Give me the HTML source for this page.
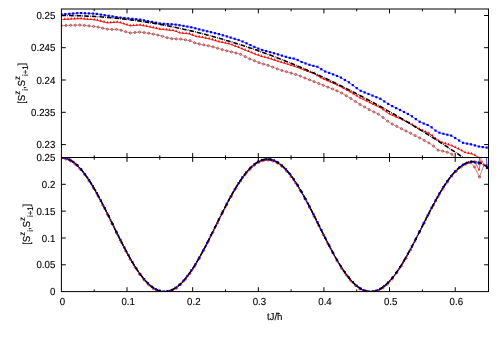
<!DOCTYPE html>
<html><head><meta charset="utf-8"><style>
html,body{margin:0;padding:0;background:#fff;}
svg{display:block;position:absolute;left:0;top:0;will-change:transform}
</style></head><body>
<svg width="500" height="350" viewBox="0 0 500 350">
<defs>
<clipPath id="ct"><rect x="61.4" y="9.0" width="427.1" height="148.5"/></clipPath>
<clipPath id="cb"><rect x="61.4" y="157.5" width="427.1" height="134.10000000000002"/></clipPath>
</defs>
<rect width="500" height="350" fill="#fff"/>
<path d="M61.4 25.6 L66.0 25.5 L70.6 25.3 L75.2 25.2 L79.8 25.0 L84.4 25.4 L89.0 25.9 L93.6 26.4 L98.2 27.1 L102.7 28.2 L107.3 29.2 L111.9 29.4 L116.5 29.4 L121.1 30.3 L125.7 31.7 L130.3 33.0 L134.9 32.5 L139.5 32.1 L144.1 32.6 L148.7 33.2 L153.3 34.1 L157.9 35.1 L162.5 36.3 L167.1 37.7 L171.7 38.7 L176.3 38.9 L180.8 39.1 L185.4 39.9 L190.0 40.6 L194.6 42.8 L199.2 44.0 L203.8 44.9 L208.4 45.7 L213.0 46.9 L217.6 48.3 L222.2 49.6 L226.8 50.8 L231.4 51.9 L236.0 53.0 L240.6 54.3 L245.2 56.6 L249.8 58.9 L254.4 60.7 L258.9 62.6 L263.5 64.1 L268.1 65.4 L272.7 67.1 L277.3 68.9 L281.9 70.5 L286.5 71.7 L291.1 73.0 L295.7 74.5 L300.3 76.1 L304.9 78.0 L309.5 79.8 L314.1 81.6 L318.7 83.5 L323.3 85.3 L327.9 87.1 L332.5 89.0 L337.0 90.8 L341.6 93.0 L346.2 95.7 L350.8 98.5 L355.4 101.5 L360.0 104.5 L364.6 107.0 L369.2 109.6 L373.8 111.9 L378.4 114.2 L383.0 117.5 L387.6 121.2 L392.2 124.1 L396.8 126.4 L401.4 128.7 L406.0 131.0 L410.6 133.3 L415.1 135.6 L419.7 137.9 L424.3 140.4 L428.9 142.9 L433.5 146.1 L438.1 150.2 L442.7 151.1 L447.3 152.3 L451.9 154.2 L455.5 158.5" fill="none" stroke="#a52a2a" stroke-width="0.5" clip-path="url(#ct)"/>
<g clip-path="url(#ct)" fill="#a52a2a" stroke="#a52a2a"><circle cx="61.4" cy="25.6" r="1.05" fill="none" stroke-width="0.75"/><circle cx="66.0" cy="25.5" r="1.05" fill="none" stroke-width="0.75"/><circle cx="70.6" cy="25.3" r="1.05" fill="none" stroke-width="0.75"/><circle cx="75.2" cy="25.2" r="1.05" fill="none" stroke-width="0.75"/><circle cx="79.8" cy="25.0" r="1.05" fill="none" stroke-width="0.75"/><circle cx="84.4" cy="25.4" r="1.05" fill="none" stroke-width="0.75"/><circle cx="89.0" cy="25.9" r="1.05" fill="none" stroke-width="0.75"/><circle cx="93.6" cy="26.4" r="1.05" fill="none" stroke-width="0.75"/><circle cx="98.2" cy="27.1" r="1.05" fill="none" stroke-width="0.75"/><circle cx="102.7" cy="28.2" r="1.05" fill="none" stroke-width="0.75"/><circle cx="107.3" cy="29.2" r="1.05" fill="none" stroke-width="0.75"/><circle cx="111.9" cy="29.4" r="1.05" fill="none" stroke-width="0.75"/><circle cx="116.5" cy="29.4" r="1.05" fill="none" stroke-width="0.75"/><circle cx="121.1" cy="30.3" r="1.05" fill="none" stroke-width="0.75"/><circle cx="125.7" cy="31.7" r="1.05" fill="none" stroke-width="0.75"/><circle cx="130.3" cy="33.0" r="1.05" fill="none" stroke-width="0.75"/><circle cx="134.9" cy="32.5" r="1.05" fill="none" stroke-width="0.75"/><circle cx="139.5" cy="32.1" r="1.05" fill="none" stroke-width="0.75"/><circle cx="144.1" cy="32.6" r="1.05" fill="none" stroke-width="0.75"/><circle cx="148.7" cy="33.2" r="1.05" fill="none" stroke-width="0.75"/><circle cx="153.3" cy="34.1" r="1.05" fill="none" stroke-width="0.75"/><circle cx="157.9" cy="35.1" r="1.05" fill="none" stroke-width="0.75"/><circle cx="162.5" cy="36.3" r="1.05" fill="none" stroke-width="0.75"/><circle cx="167.1" cy="37.7" r="1.05" fill="none" stroke-width="0.75"/><circle cx="171.7" cy="38.7" r="1.05" fill="none" stroke-width="0.75"/><circle cx="176.3" cy="38.9" r="1.05" fill="none" stroke-width="0.75"/><circle cx="180.8" cy="39.1" r="1.05" fill="none" stroke-width="0.75"/><circle cx="185.4" cy="39.9" r="1.05" fill="none" stroke-width="0.75"/><circle cx="190.0" cy="40.6" r="1.05" fill="none" stroke-width="0.75"/><circle cx="194.6" cy="42.8" r="1.05" fill="none" stroke-width="0.75"/><circle cx="199.2" cy="44.0" r="1.05" fill="none" stroke-width="0.75"/><circle cx="203.8" cy="44.9" r="1.05" fill="none" stroke-width="0.75"/><circle cx="208.4" cy="45.7" r="1.05" fill="none" stroke-width="0.75"/><circle cx="213.0" cy="46.9" r="1.05" fill="none" stroke-width="0.75"/><circle cx="217.6" cy="48.3" r="1.05" fill="none" stroke-width="0.75"/><circle cx="222.2" cy="49.6" r="1.05" fill="none" stroke-width="0.75"/><circle cx="226.8" cy="50.8" r="1.05" fill="none" stroke-width="0.75"/><circle cx="231.4" cy="51.9" r="1.05" fill="none" stroke-width="0.75"/><circle cx="236.0" cy="53.0" r="1.05" fill="none" stroke-width="0.75"/><circle cx="240.6" cy="54.3" r="1.05" fill="none" stroke-width="0.75"/><circle cx="245.2" cy="56.6" r="1.05" fill="none" stroke-width="0.75"/><circle cx="249.8" cy="58.9" r="1.05" fill="none" stroke-width="0.75"/><circle cx="254.4" cy="60.7" r="1.05" fill="none" stroke-width="0.75"/><circle cx="258.9" cy="62.6" r="1.05" fill="none" stroke-width="0.75"/><circle cx="263.5" cy="64.1" r="1.05" fill="none" stroke-width="0.75"/><circle cx="268.1" cy="65.4" r="1.05" fill="none" stroke-width="0.75"/><circle cx="272.7" cy="67.1" r="1.05" fill="none" stroke-width="0.75"/><circle cx="277.3" cy="68.9" r="1.05" fill="none" stroke-width="0.75"/><circle cx="281.9" cy="70.5" r="1.05" fill="none" stroke-width="0.75"/><circle cx="286.5" cy="71.7" r="1.05" fill="none" stroke-width="0.75"/><circle cx="291.1" cy="73.0" r="1.05" fill="none" stroke-width="0.75"/><circle cx="295.7" cy="74.5" r="1.05" fill="none" stroke-width="0.75"/><circle cx="300.3" cy="76.1" r="1.05" fill="none" stroke-width="0.75"/><circle cx="304.9" cy="78.0" r="1.05" fill="none" stroke-width="0.75"/><circle cx="309.5" cy="79.8" r="1.05" fill="none" stroke-width="0.75"/><circle cx="314.1" cy="81.6" r="1.05" fill="none" stroke-width="0.75"/><circle cx="318.7" cy="83.5" r="1.05" fill="none" stroke-width="0.75"/><circle cx="323.3" cy="85.3" r="1.05" fill="none" stroke-width="0.75"/><circle cx="327.9" cy="87.1" r="1.05" fill="none" stroke-width="0.75"/><circle cx="332.5" cy="89.0" r="1.05" fill="none" stroke-width="0.75"/><circle cx="337.0" cy="90.8" r="1.05" fill="none" stroke-width="0.75"/><circle cx="341.6" cy="93.0" r="1.05" fill="none" stroke-width="0.75"/><circle cx="346.2" cy="95.7" r="1.05" fill="none" stroke-width="0.75"/><circle cx="350.8" cy="98.5" r="1.05" fill="none" stroke-width="0.75"/><circle cx="355.4" cy="101.5" r="1.05" fill="none" stroke-width="0.75"/><circle cx="360.0" cy="104.5" r="1.05" fill="none" stroke-width="0.75"/><circle cx="364.6" cy="107.0" r="1.05" fill="none" stroke-width="0.75"/><circle cx="369.2" cy="109.6" r="1.05" fill="none" stroke-width="0.75"/><circle cx="373.8" cy="111.9" r="1.05" fill="none" stroke-width="0.75"/><circle cx="378.4" cy="114.2" r="1.05" fill="none" stroke-width="0.75"/><circle cx="383.0" cy="117.5" r="1.05" fill="none" stroke-width="0.75"/><circle cx="387.6" cy="121.2" r="1.05" fill="none" stroke-width="0.75"/><circle cx="392.2" cy="124.1" r="1.05" fill="none" stroke-width="0.75"/><circle cx="396.8" cy="126.4" r="1.05" fill="none" stroke-width="0.75"/><circle cx="401.4" cy="128.7" r="1.05" fill="none" stroke-width="0.75"/><circle cx="406.0" cy="131.0" r="1.05" fill="none" stroke-width="0.75"/><circle cx="410.6" cy="133.3" r="1.05" fill="none" stroke-width="0.75"/><circle cx="415.1" cy="135.6" r="1.05" fill="none" stroke-width="0.75"/><circle cx="419.7" cy="137.9" r="1.05" fill="none" stroke-width="0.75"/><circle cx="424.3" cy="140.4" r="1.05" fill="none" stroke-width="0.75"/><circle cx="428.9" cy="142.9" r="1.05" fill="none" stroke-width="0.75"/><circle cx="433.5" cy="146.1" r="1.05" fill="none" stroke-width="0.75"/><circle cx="438.1" cy="150.2" r="1.05" fill="none" stroke-width="0.75"/><circle cx="442.7" cy="151.1" r="1.05" fill="none" stroke-width="0.75"/><circle cx="447.3" cy="152.3" r="1.05" fill="none" stroke-width="0.75"/><circle cx="451.9" cy="154.2" r="1.05" fill="none" stroke-width="0.75"/></g>
<path d="M61.4 19.6 L64.7 19.4 L68.0 19.2 L71.2 19.1 L74.5 18.9 L77.8 18.7 L81.1 18.7 L84.4 19.0 L87.7 19.3 L90.9 19.6 L94.2 19.8 L97.5 20.4 L100.8 21.2 L104.1 22.0 L107.3 22.8 L110.6 22.7 L113.9 22.4 L117.2 22.1 L120.5 22.8 L123.7 23.8 L127.0 24.9 L130.3 25.8 L133.6 25.5 L136.9 25.3 L140.2 25.0 L143.4 25.7 L146.7 26.3 L150.0 27.0 L153.3 27.7 L156.6 28.4 L159.8 29.2 L163.1 29.5 L166.4 29.8 L169.7 30.2 L173.0 30.5 L176.3 31.5 L179.5 32.8 L182.8 33.3 L186.1 33.6 L189.4 33.9 L192.7 35.2 L195.9 36.6 L199.2 36.9 L202.5 37.5 L205.8 38.2 L209.1 38.8 L212.3 39.7 L215.6 40.7 L218.9 41.7 L222.2 42.4 L225.5 43.1 L228.8 43.8 L232.0 44.8 L235.3 46.1 L238.6 47.4 L241.9 48.8 L245.2 50.1 L248.4 51.4 L251.7 52.7 L255.0 54.0 L258.3 55.3 L261.6 56.4 L264.9 57.3 L268.1 58.1 L271.4 59.1 L274.7 60.2 L278.0 61.3 L281.3 62.4 L284.5 63.4 L287.8 64.3 L291.1 65.4 L294.4 66.5 L297.7 67.6 L300.9 68.8 L304.2 70.1 L307.5 71.4 L310.8 72.6 L314.1 73.5 L317.4 75.6 L320.6 77.7 L323.9 79.2 L327.2 80.6 L330.5 82.1 L333.8 83.6 L337.0 85.1 L340.3 86.6 L343.6 88.4 L346.9 90.2 L350.2 92.0 L353.5 94.0 L356.7 95.9 L360.0 97.9 L363.3 99.5 L366.6 101.1 L369.9 102.7 L373.1 104.3 L376.4 105.9 L379.7 107.5 L383.0 109.6 L386.3 111.9 L389.5 114.1 L392.8 115.6 L396.1 117.0 L399.4 118.3 L402.7 119.9 L406.0 121.6 L409.2 123.2 L412.5 125.1 L415.8 127.1 L419.1 129.1 L422.4 130.6 L425.6 132.0 L428.9 133.3 L432.2 135.7 L435.5 138.6 L438.8 140.9 L442.1 142.5 L445.3 143.6 L448.6 144.7 L451.9 145.8 L455.2 147.4 L458.5 149.0 L461.7 150.7 L465.0 152.6 L468.3 153.3 L471.6 153.8 L474.9 155.4 L479.6 157.5" fill="none" stroke="#ff0000" stroke-width="0.8" clip-path="url(#ct)"/>
<g clip-path="url(#ct)" fill="#ff0000" stroke="#ff0000"><path d="M60.30 20.10L62.50 20.10L61.40 17.50z" stroke="none"/><path d="M63.58 19.92L65.78 19.92L64.68 17.32z" stroke="none"/><path d="M66.86 19.75L69.06 19.75L67.96 17.15z" stroke="none"/><path d="M70.14 19.57L72.34 19.57L71.24 16.97z" stroke="none"/><path d="M73.43 19.39L75.63 19.39L74.53 16.79z" stroke="none"/><path d="M76.71 19.22L78.91 19.22L77.81 16.62z" stroke="none"/><path d="M79.99 19.20L82.19 19.20L81.09 16.60z" stroke="none"/><path d="M83.27 19.48L85.47 19.48L84.37 16.88z" stroke="none"/><path d="M86.55 19.77L88.75 19.77L87.65 17.17z" stroke="none"/><path d="M89.83 20.06L92.03 20.06L90.93 17.46z" stroke="none"/><path d="M93.12 20.34L95.31 20.34L94.22 17.74z" stroke="none"/><path d="M96.40 20.87L98.60 20.87L97.50 18.27z" stroke="none"/><path d="M99.68 21.69L101.88 21.69L100.78 19.09z" stroke="none"/><path d="M102.96 22.51L105.16 22.51L104.06 19.91z" stroke="none"/><path d="M106.24 23.34L108.44 23.34L107.34 20.74z" stroke="none"/><path d="M109.52 23.24L111.72 23.24L110.62 20.64z" stroke="none"/><path d="M112.80 22.91L115.00 22.91L113.90 20.31z" stroke="none"/><path d="M116.09 22.58L118.29 22.58L117.19 19.98z" stroke="none"/><path d="M119.37 23.28L121.57 23.28L120.47 20.68z" stroke="none"/><path d="M122.65 24.32L124.85 24.32L123.75 21.72z" stroke="none"/><path d="M125.93 25.36L128.13 25.36L127.03 22.76z" stroke="none"/><path d="M129.21 26.28L131.41 26.28L130.31 23.68z" stroke="none"/><path d="M132.49 26.01L134.69 26.01L133.59 23.41z" stroke="none"/><path d="M135.77 25.75L137.97 25.75L136.87 23.15z" stroke="none"/><path d="M139.06 25.53L141.26 25.53L140.16 22.93z" stroke="none"/><path d="M142.34 26.19L144.54 26.19L143.44 23.59z" stroke="none"/><path d="M145.62 26.84L147.82 26.84L146.72 24.24z" stroke="none"/><path d="M148.90 27.50L151.10 27.50L150.00 24.90z" stroke="none"/><path d="M152.18 28.22L154.38 28.22L153.28 25.62z" stroke="none"/><path d="M155.46 28.94L157.66 28.94L156.56 26.34z" stroke="none"/><path d="M158.75 29.67L160.94 29.67L159.84 27.07z" stroke="none"/><path d="M162.03 30.01L164.23 30.01L163.13 27.41z" stroke="none"/><path d="M165.31 30.34L167.51 30.34L166.41 27.74z" stroke="none"/><path d="M168.59 30.67L170.79 30.67L169.69 28.07z" stroke="none"/><path d="M171.87 31.00L174.07 31.00L172.97 28.40z" stroke="none"/><path d="M175.15 32.00L177.35 32.00L176.25 29.40z" stroke="none"/><path d="M178.43 33.31L180.63 33.31L179.53 30.71z" stroke="none"/><path d="M181.72 33.78L183.92 33.78L182.82 31.18z" stroke="none"/><path d="M185.00 34.11L187.20 34.11L186.10 31.51z" stroke="none"/><path d="M188.28 34.44L190.48 34.44L189.38 31.84z" stroke="none"/><path d="M191.56 35.65L193.76 35.65L192.66 33.05z" stroke="none"/><path d="M194.84 37.07L197.04 37.07L195.94 34.47z" stroke="none"/><path d="M198.12 37.42L200.32 37.42L199.22 34.82z" stroke="none"/><path d="M201.40 38.00L203.60 38.00L202.50 35.40z" stroke="none"/><path d="M204.69 38.66L206.89 38.66L205.79 36.06z" stroke="none"/><path d="M207.97 39.31L210.17 39.31L209.07 36.71z" stroke="none"/><path d="M211.25 40.20L213.45 40.20L212.35 37.60z" stroke="none"/><path d="M214.53 41.19L216.73 41.19L215.63 38.59z" stroke="none"/><path d="M217.81 42.17L220.01 42.17L218.91 39.57z" stroke="none"/><path d="M221.09 42.94L223.29 42.94L222.19 40.34z" stroke="none"/><path d="M224.38 43.59L226.57 43.59L225.47 40.99z" stroke="none"/><path d="M227.66 44.25L229.86 44.25L228.76 41.65z" stroke="none"/><path d="M230.94 45.32L233.14 45.32L232.04 42.72z" stroke="none"/><path d="M234.22 46.63L236.42 46.63L235.32 44.03z" stroke="none"/><path d="M237.50 47.94L239.70 47.94L238.60 45.34z" stroke="none"/><path d="M240.78 49.25L242.98 49.25L241.88 46.65z" stroke="none"/><path d="M244.06 50.57L246.26 50.57L245.16 47.97z" stroke="none"/><path d="M247.35 51.88L249.55 51.88L248.45 49.28z" stroke="none"/><path d="M250.63 53.19L252.83 53.19L251.73 50.59z" stroke="none"/><path d="M253.91 54.50L256.11 54.50L255.01 51.90z" stroke="none"/><path d="M257.19 55.82L259.39 55.82L258.29 53.22z" stroke="none"/><path d="M260.47 56.91L262.67 56.91L261.57 54.31z" stroke="none"/><path d="M263.75 57.76L265.95 57.76L264.85 55.16z" stroke="none"/><path d="M267.03 58.61L269.23 58.61L268.13 56.01z" stroke="none"/><path d="M270.32 59.58L272.52 59.58L271.42 56.98z" stroke="none"/><path d="M273.60 60.70L275.80 60.70L274.70 58.10z" stroke="none"/><path d="M276.88 61.81L279.08 61.81L277.98 59.21z" stroke="none"/><path d="M280.16 62.88L282.36 62.88L281.26 60.28z" stroke="none"/><path d="M283.44 63.86L285.64 63.86L284.54 61.26z" stroke="none"/><path d="M286.72 64.85L288.92 64.85L287.82 62.25z" stroke="none"/><path d="M290.00 65.88L292.21 65.88L291.11 63.28z" stroke="none"/><path d="M293.29 66.99L295.49 66.99L294.39 64.39z" stroke="none"/><path d="M296.57 68.11L298.77 68.11L297.67 65.51z" stroke="none"/><path d="M299.85 69.28L302.05 69.28L300.95 66.68z" stroke="none"/><path d="M303.13 70.59L305.33 70.59L304.23 67.99z" stroke="none"/><path d="M306.41 71.91L308.61 71.91L307.51 69.31z" stroke="none"/><path d="M309.69 73.10L311.89 73.10L310.79 70.50z" stroke="none"/><path d="M312.98 73.95L315.18 73.95L314.08 71.35z" stroke="none"/><path d="M316.26 76.14L318.46 76.14L317.36 73.54z" stroke="none"/><path d="M319.54 78.19L321.74 78.19L320.64 75.59z" stroke="none"/><path d="M322.82 79.66L325.02 79.66L323.92 77.06z" stroke="none"/><path d="M326.10 81.14L328.30 81.14L327.20 78.54z" stroke="none"/><path d="M329.38 82.62L331.58 82.62L330.48 80.02z" stroke="none"/><path d="M332.66 84.09L334.86 84.09L333.76 81.49z" stroke="none"/><path d="M335.95 85.57L338.15 85.57L337.05 82.97z" stroke="none"/><path d="M339.23 87.08L341.43 87.08L340.33 84.48z" stroke="none"/><path d="M342.51 88.88L344.71 88.88L343.61 86.28z" stroke="none"/><path d="M345.79 90.69L347.99 90.69L346.89 88.09z" stroke="none"/><path d="M349.07 92.50L351.27 92.50L350.17 89.90z" stroke="none"/><path d="M352.35 94.47L354.55 94.47L353.45 91.87z" stroke="none"/><path d="M355.63 96.44L357.83 96.44L356.73 93.84z" stroke="none"/><path d="M358.92 98.41L361.12 98.41L360.02 95.81z" stroke="none"/><path d="M362.20 100.00L364.40 100.00L363.30 97.40z" stroke="none"/><path d="M365.48 101.59L367.68 101.59L366.58 98.99z" stroke="none"/><path d="M368.76 103.18L370.96 103.18L369.86 100.58z" stroke="none"/><path d="M372.04 104.77L374.24 104.77L373.14 102.17z" stroke="none"/><path d="M375.32 106.37L377.52 106.37L376.42 103.77z" stroke="none"/><path d="M378.61 107.96L380.81 107.96L379.71 105.36z" stroke="none"/><path d="M381.89 110.13L384.09 110.13L382.99 107.53z" stroke="none"/><path d="M385.17 112.36L387.37 112.36L386.27 109.76z" stroke="none"/><path d="M388.45 114.59L390.65 114.59L389.55 111.99z" stroke="none"/><path d="M391.73 116.09L393.93 116.09L392.83 113.49z" stroke="none"/><path d="M395.01 117.47L397.21 117.47L396.11 114.87z" stroke="none"/><path d="M398.29 118.85L400.49 118.85L399.39 116.25z" stroke="none"/><path d="M401.58 120.44L403.78 120.44L402.68 117.84z" stroke="none"/><path d="M404.86 122.08L407.06 122.08L405.96 119.48z" stroke="none"/><path d="M408.14 123.72L410.34 123.72L409.24 121.12z" stroke="none"/><path d="M411.42 125.61L413.62 125.61L412.52 123.01z" stroke="none"/><path d="M414.70 127.58L416.90 127.58L415.80 124.98z" stroke="none"/><path d="M417.98 129.55L420.18 129.55L419.08 126.95z" stroke="none"/><path d="M421.26 131.09L423.47 131.09L422.37 128.49z" stroke="none"/><path d="M424.55 132.47L426.75 132.47L425.65 129.87z" stroke="none"/><path d="M427.83 133.85L430.03 133.85L428.93 131.25z" stroke="none"/><path d="M431.11 136.21L433.31 136.21L432.21 133.61z" stroke="none"/><path d="M434.39 139.06L436.59 139.06L435.49 136.46z" stroke="none"/><path d="M437.67 141.44L439.87 141.44L438.77 138.84z" stroke="none"/><path d="M440.95 142.98L443.15 142.98L442.05 140.38z" stroke="none"/><path d="M444.24 144.08L446.44 144.08L445.34 141.48z" stroke="none"/><path d="M447.52 145.17L449.72 145.17L448.62 142.57z" stroke="none"/><path d="M450.80 146.27L453.00 146.27L451.90 143.67z" stroke="none"/><path d="M454.08 147.89L456.28 147.89L455.18 145.29z" stroke="none"/><path d="M457.36 149.53L459.56 149.53L458.46 146.93z" stroke="none"/><path d="M460.64 151.18L462.84 151.18L461.74 148.58z" stroke="none"/><path d="M463.92 153.06L466.12 153.06L465.02 150.46z" stroke="none"/><path d="M467.21 153.78L469.41 153.78L468.31 151.18z" stroke="none"/><path d="M470.49 154.29L472.69 154.29L471.59 151.69z" stroke="none"/><path d="M473.77 155.93L475.97 155.93L474.87 153.33z" stroke="none"/></g>
<path d="M61.4 14.4 L65.3 14.1 L69.3 13.8 L73.2 13.5 L77.2 13.2 L81.1 13.1 L85.0 13.3 L89.0 13.4 L92.9 13.6 L96.8 13.9 L100.8 14.6 L104.7 15.2 L108.7 15.8 L112.6 16.4 L116.5 17.1 L120.5 17.6 L124.4 18.0 L128.3 18.4 L132.3 18.8 L136.2 19.2 L140.2 19.6 L144.1 20.4 L148.0 21.2 L152.0 21.9 L155.9 22.7 L159.8 23.5 L163.8 23.8 L167.7 24.0 L171.7 24.3 L175.6 24.6 L179.5 25.2 L183.5 25.9 L187.4 26.6 L191.3 27.3 L195.3 28.3 L199.2 29.4 L203.2 30.4 L207.1 31.3 L211.0 32.2 L215.0 33.2 L218.9 34.1 L222.8 35.3 L226.8 36.4 L230.7 37.6 L234.7 38.8 L238.6 40.0 L242.5 41.5 L246.5 43.3 L250.4 45.1 L254.4 46.9 L258.3 48.6 L262.2 50.0 L266.2 51.1 L270.1 52.2 L274.0 53.3 L278.0 54.4 L281.9 55.6 L285.9 56.8 L289.8 57.9 L293.7 58.6 L297.7 60.0 L301.6 62.0 L305.5 63.4 L309.5 64.8 L313.4 65.9 L317.4 66.8 L321.3 69.2 L325.2 71.5 L329.2 72.9 L333.1 74.4 L337.0 75.9 L341.0 77.6 L344.9 80.0 L348.9 82.3 L352.8 85.1 L356.7 88.1 L360.7 90.8 L364.6 92.4 L368.5 94.0 L372.5 95.6 L376.4 97.2 L380.4 98.8 L384.3 101.4 L388.2 103.9 L392.2 106.1 L396.1 108.1 L400.1 110.0 L404.0 112.0 L407.9 114.0 L411.9 116.3 L415.8 119.1 L419.7 121.8 L423.7 123.5 L427.6 125.0 L431.6 127.3 L435.5 130.6 L439.4 132.7 L443.4 133.8 L447.3 134.7 L451.2 135.6 L455.2 138.0 L459.1 140.5 L463.1 142.8 L467.0 143.6 L470.9 144.3 L474.9 145.4 L478.8 146.5 L482.7 147.1 L486.7 147.6" fill="none" stroke="#0000ff" stroke-width="0.55" clip-path="url(#ct)"/>
<g clip-path="url(#ct)" fill="#0000ff" stroke="#0000ff"><rect x="60.3" y="13.3" width="2.2" height="2.2" stroke="none"/><rect x="64.2" y="13.0" width="2.2" height="2.2" stroke="none"/><rect x="68.2" y="12.7" width="2.2" height="2.2" stroke="none"/><rect x="72.1" y="12.4" width="2.2" height="2.2" stroke="none"/><rect x="76.1" y="12.1" width="2.2" height="2.2" stroke="none"/><rect x="80.0" y="12.0" width="2.2" height="2.2" stroke="none"/><rect x="83.9" y="12.2" width="2.2" height="2.2" stroke="none"/><rect x="87.9" y="12.3" width="2.2" height="2.2" stroke="none"/><rect x="91.8" y="12.5" width="2.2" height="2.2" stroke="none"/><rect x="95.7" y="12.8" width="2.2" height="2.2" stroke="none"/><rect x="99.7" y="13.5" width="2.2" height="2.2" stroke="none"/><rect x="103.6" y="14.1" width="2.2" height="2.2" stroke="none"/><rect x="107.6" y="14.7" width="2.2" height="2.2" stroke="none"/><rect x="111.5" y="15.3" width="2.2" height="2.2" stroke="none"/><rect x="115.4" y="16.0" width="2.2" height="2.2" stroke="none"/><rect x="119.4" y="16.5" width="2.2" height="2.2" stroke="none"/><rect x="123.3" y="16.9" width="2.2" height="2.2" stroke="none"/><rect x="127.2" y="17.3" width="2.2" height="2.2" stroke="none"/><rect x="131.2" y="17.7" width="2.2" height="2.2" stroke="none"/><rect x="135.1" y="18.1" width="2.2" height="2.2" stroke="none"/><rect x="139.1" y="18.5" width="2.2" height="2.2" stroke="none"/><rect x="143.0" y="19.3" width="2.2" height="2.2" stroke="none"/><rect x="146.9" y="20.1" width="2.2" height="2.2" stroke="none"/><rect x="150.9" y="20.8" width="2.2" height="2.2" stroke="none"/><rect x="154.8" y="21.6" width="2.2" height="2.2" stroke="none"/><rect x="158.7" y="22.4" width="2.2" height="2.2" stroke="none"/><rect x="162.7" y="22.7" width="2.2" height="2.2" stroke="none"/><rect x="166.6" y="22.9" width="2.2" height="2.2" stroke="none"/><rect x="170.6" y="23.2" width="2.2" height="2.2" stroke="none"/><rect x="174.5" y="23.5" width="2.2" height="2.2" stroke="none"/><rect x="178.4" y="24.1" width="2.2" height="2.2" stroke="none"/><rect x="182.4" y="24.8" width="2.2" height="2.2" stroke="none"/><rect x="186.3" y="25.5" width="2.2" height="2.2" stroke="none"/><rect x="190.2" y="26.2" width="2.2" height="2.2" stroke="none"/><rect x="194.2" y="27.2" width="2.2" height="2.2" stroke="none"/><rect x="198.1" y="28.3" width="2.2" height="2.2" stroke="none"/><rect x="202.1" y="29.3" width="2.2" height="2.2" stroke="none"/><rect x="206.0" y="30.2" width="2.2" height="2.2" stroke="none"/><rect x="209.9" y="31.1" width="2.2" height="2.2" stroke="none"/><rect x="213.9" y="32.1" width="2.2" height="2.2" stroke="none"/><rect x="217.8" y="33.0" width="2.2" height="2.2" stroke="none"/><rect x="221.7" y="34.2" width="2.2" height="2.2" stroke="none"/><rect x="225.7" y="35.3" width="2.2" height="2.2" stroke="none"/><rect x="229.6" y="36.5" width="2.2" height="2.2" stroke="none"/><rect x="233.6" y="37.7" width="2.2" height="2.2" stroke="none"/><rect x="237.5" y="38.9" width="2.2" height="2.2" stroke="none"/><rect x="241.4" y="40.4" width="2.2" height="2.2" stroke="none"/><rect x="245.4" y="42.2" width="2.2" height="2.2" stroke="none"/><rect x="249.3" y="44.0" width="2.2" height="2.2" stroke="none"/><rect x="253.3" y="45.8" width="2.2" height="2.2" stroke="none"/><rect x="257.2" y="47.5" width="2.2" height="2.2" stroke="none"/><rect x="261.1" y="48.9" width="2.2" height="2.2" stroke="none"/><rect x="265.1" y="50.0" width="2.2" height="2.2" stroke="none"/><rect x="269.0" y="51.1" width="2.2" height="2.2" stroke="none"/><rect x="272.9" y="52.2" width="2.2" height="2.2" stroke="none"/><rect x="276.9" y="53.3" width="2.2" height="2.2" stroke="none"/><rect x="280.8" y="54.5" width="2.2" height="2.2" stroke="none"/><rect x="284.8" y="55.7" width="2.2" height="2.2" stroke="none"/><rect x="288.7" y="56.8" width="2.2" height="2.2" stroke="none"/><rect x="292.6" y="57.5" width="2.2" height="2.2" stroke="none"/><rect x="296.6" y="58.9" width="2.2" height="2.2" stroke="none"/><rect x="300.5" y="60.9" width="2.2" height="2.2" stroke="none"/><rect x="304.4" y="62.3" width="2.2" height="2.2" stroke="none"/><rect x="308.4" y="63.7" width="2.2" height="2.2" stroke="none"/><rect x="312.3" y="64.8" width="2.2" height="2.2" stroke="none"/><rect x="316.3" y="65.7" width="2.2" height="2.2" stroke="none"/><rect x="320.2" y="68.1" width="2.2" height="2.2" stroke="none"/><rect x="324.1" y="70.4" width="2.2" height="2.2" stroke="none"/><rect x="328.1" y="71.8" width="2.2" height="2.2" stroke="none"/><rect x="332.0" y="73.3" width="2.2" height="2.2" stroke="none"/><rect x="335.9" y="74.8" width="2.2" height="2.2" stroke="none"/><rect x="339.9" y="76.5" width="2.2" height="2.2" stroke="none"/><rect x="343.8" y="78.9" width="2.2" height="2.2" stroke="none"/><rect x="347.8" y="81.2" width="2.2" height="2.2" stroke="none"/><rect x="351.7" y="84.0" width="2.2" height="2.2" stroke="none"/><rect x="355.6" y="87.0" width="2.2" height="2.2" stroke="none"/><rect x="359.6" y="89.7" width="2.2" height="2.2" stroke="none"/><rect x="363.5" y="91.3" width="2.2" height="2.2" stroke="none"/><rect x="367.4" y="92.9" width="2.2" height="2.2" stroke="none"/><rect x="371.4" y="94.5" width="2.2" height="2.2" stroke="none"/><rect x="375.3" y="96.1" width="2.2" height="2.2" stroke="none"/><rect x="379.3" y="97.7" width="2.2" height="2.2" stroke="none"/><rect x="383.2" y="100.3" width="2.2" height="2.2" stroke="none"/><rect x="387.1" y="102.8" width="2.2" height="2.2" stroke="none"/><rect x="391.1" y="105.0" width="2.2" height="2.2" stroke="none"/><rect x="395.0" y="107.0" width="2.2" height="2.2" stroke="none"/><rect x="399.0" y="108.9" width="2.2" height="2.2" stroke="none"/><rect x="402.9" y="110.9" width="2.2" height="2.2" stroke="none"/><rect x="406.8" y="112.9" width="2.2" height="2.2" stroke="none"/><rect x="410.8" y="115.2" width="2.2" height="2.2" stroke="none"/><rect x="414.7" y="118.0" width="2.2" height="2.2" stroke="none"/><rect x="418.6" y="120.7" width="2.2" height="2.2" stroke="none"/><rect x="422.6" y="122.4" width="2.2" height="2.2" stroke="none"/><rect x="426.5" y="123.9" width="2.2" height="2.2" stroke="none"/><rect x="430.5" y="126.2" width="2.2" height="2.2" stroke="none"/><rect x="434.4" y="129.5" width="2.2" height="2.2" stroke="none"/><rect x="438.3" y="131.6" width="2.2" height="2.2" stroke="none"/><rect x="442.3" y="132.7" width="2.2" height="2.2" stroke="none"/><rect x="446.2" y="133.6" width="2.2" height="2.2" stroke="none"/><rect x="450.1" y="134.5" width="2.2" height="2.2" stroke="none"/><rect x="454.1" y="136.9" width="2.2" height="2.2" stroke="none"/><rect x="458.0" y="139.4" width="2.2" height="2.2" stroke="none"/><rect x="462.0" y="141.7" width="2.2" height="2.2" stroke="none"/><rect x="465.9" y="142.5" width="2.2" height="2.2" stroke="none"/><rect x="469.8" y="143.2" width="2.2" height="2.2" stroke="none"/><rect x="473.8" y="144.3" width="2.2" height="2.2" stroke="none"/><rect x="477.7" y="145.4" width="2.2" height="2.2" stroke="none"/><rect x="481.6" y="146.0" width="2.2" height="2.2" stroke="none"/><rect x="485.6" y="146.5" width="2.2" height="2.2" stroke="none"/></g>
<path d="M61.4 15.5 L63.5 15.5 L65.7 15.5 L67.8 15.5 L70.0 15.5 L72.1 15.6 L74.3 15.6 L76.4 15.7 L78.5 15.7 L80.7 15.8 L82.8 15.9 L85.0 16.0 L87.1 16.1 L89.3 16.2 L91.4 16.3 L93.6 16.4 L95.7 16.5 L97.8 16.7 L100.0 16.8 L102.1 17.0 L104.3 17.1 L106.4 17.3 L108.6 17.5 L110.7 17.7 L112.8 17.9 L115.0 18.1 L117.1 18.3 L119.3 18.5 L121.4 18.8 L123.6 19.0 L125.7 19.3 L127.9 19.5 L130.0 19.8 L132.1 20.1 L134.3 20.3 L136.4 20.6 L138.6 20.9 L140.7 21.2 L142.9 21.6 L145.0 21.9 L147.1 22.2 L149.3 22.6 L151.4 22.9 L153.6 23.3 L155.7 23.6 L157.9 24.0 L160.0 24.4 L162.2 24.8 L164.3 25.2 L166.4 25.6 L168.6 26.0 L170.7 26.4 L172.9 26.9 L175.0 27.3 L177.2 27.8 L179.3 28.2 L181.4 28.7 L183.6 29.2 L185.7 29.6 L187.9 30.1 L190.0 30.6 L192.2 31.1 L194.3 31.6 L196.5 32.2 L198.6 32.7 L200.7 33.2 L202.9 33.8 L205.0 34.3 L207.2 34.9 L209.3 35.5 L211.5 36.1 L213.6 36.7 L215.7 37.3 L217.9 37.9 L220.0 38.5 L222.2 39.1 L224.3 39.7 L226.5 40.4 L228.6 41.0 L230.8 41.7 L232.9 42.3 L235.0 43.0 L237.2 43.7 L239.3 44.4 L241.5 45.0 L243.6 45.8 L245.8 46.5 L247.9 47.2 L250.0 47.9 L252.2 48.6 L254.3 49.4 L256.5 50.1 L258.6 50.9 L260.8 51.7 L262.9 52.4 L265.1 53.2 L267.2 54.0 L269.3 54.8 L271.5 55.6 L273.6 56.4 L275.8 57.2 L277.9 58.1 L280.1 58.9 L282.2 59.7 L284.3 60.6 L286.5 61.5 L288.6 62.3 L290.8 63.2 L292.9 64.1 L295.1 65.0 L297.2 65.9 L299.3 66.8 L301.5 67.7 L303.6 68.6 L305.8 69.5 L307.9 70.5 L310.1 71.4 L312.2 72.4 L314.4 73.3 L316.5 74.3 L318.6 75.3 L320.8 76.3 L322.9 77.2 L325.1 78.2 L327.2 79.2 L329.4 80.3 L331.5 81.3 L333.6 82.3 L335.8 83.3 L337.9 84.4 L340.1 85.4 L342.2 86.5 L344.4 87.6 L346.5 88.6 L348.7 89.7 L350.8 90.8 L352.9 91.9 L355.1 93.0 L357.2 94.1 L359.4 95.2 L361.5 96.3 L363.7 97.5 L365.8 98.6 L367.9 99.7 L370.1 100.9 L372.2 102.0 L374.4 103.2 L376.5 104.4 L378.7 105.6 L380.8 106.7 L383.0 107.9 L385.1 109.1 L387.2 110.4 L389.4 111.6 L391.5 112.8 L393.7 114.0 L395.8 115.3 L398.0 116.5 L400.1 117.7 L402.2 119.0 L404.4 120.3 L406.5 121.5 L408.7 122.8 L410.8 124.1 L413.0 125.4 L415.1 126.7 L417.3 128.0 L419.4 129.3 L421.5 130.6 L423.7 131.9 L425.8 133.3 L428.0 134.6 L430.1 135.9 L432.3 137.3 L434.4 138.7 L436.5 140.0 L438.7 141.4 L440.8 142.8 L443.0 144.2 L445.1 145.5 L447.3 146.9 L449.4 148.3 L451.6 149.8 L453.7 151.2 L455.8 152.6 L458.0 154.0 L460.1 155.5 L462.3 156.9 L464.4 158.3 L466.6 159.8 L468.7 161.3 L470.8 162.7 L473.0 164.2 L475.1 165.7 L477.3 167.2 L479.4 168.6 L481.6 170.1 L483.7 171.6 L485.9 173.2 L488.0 174.7" fill="none" stroke="#000" stroke-width="1.6" stroke-dasharray="4.7 1.1 0.7 1.1" clip-path="url(#ct)"/>
<path d="M61.4 158.4 L66.0 159.1 L70.6 161.1 L75.2 164.3 L79.8 168.8 L84.4 174.3 L89.0 180.9 L93.6 188.3 L98.2 196.4 L102.7 205.1 L107.3 214.2 L111.9 223.6 L116.5 232.9 L121.1 242.1 L125.7 251.0 L130.3 259.4 L134.9 267.1 L139.5 274.1 L144.1 280.0 L148.7 284.9 L153.3 288.6 L157.9 291.1 L162.5 292.4 L167.1 292.3 L171.7 290.9 L176.3 288.3 L180.8 284.4 L185.4 279.4 L190.0 273.3 L194.6 266.4 L199.2 258.6 L203.8 250.2 L208.4 241.3 L213.0 232.2 L217.6 222.9 L222.2 213.7 L226.8 204.7 L231.4 196.2 L236.0 188.2 L240.6 181.0 L245.2 174.7 L249.8 169.4 L254.4 165.3 L258.9 162.3 L263.5 160.5 L268.1 160.1 L272.7 160.9 L277.3 163.1 L281.9 166.4 L286.5 170.9 L291.1 176.6 L295.7 183.1 L300.3 190.6 L304.9 198.7 L309.5 207.4 L314.1 216.4 L318.7 225.6 L323.3 234.8 L327.9 243.9 L332.5 252.6 L337.0 260.8 L341.6 268.4 L346.2 275.1 L350.8 280.8 L355.4 285.5 L360.0 289.1 L364.6 291.4 L369.2 292.4 L373.8 292.2 L378.4 290.7 L383.0 287.9 L387.6 284.0 L392.2 278.9 L396.8 272.8 L401.4 265.9 L406.0 258.2 L410.6 249.8 L415.1 241.1 L419.7 232.0 L424.3 222.9 L428.9 213.9 L433.5 205.1 L438.1 196.8 L442.7 189.1 L447.3 182.1 L451.9 176.0 L456.5 171.0 L461.1 167.0 L465.7 164.2 L470.3 162.7 L474.5 167.0 L479.5 177.0 L484.0 165.0 L487.5 165.0" fill="none" stroke="#a52a2a" stroke-width="0.6" clip-path="url(#cb)"/>
<g clip-path="url(#cb)" stroke="#a52a2a"><circle cx="61.4" cy="158.4" r="1.05" fill="none" stroke-width="0.75"/><circle cx="66.0" cy="159.1" r="1.05" fill="none" stroke-width="0.75"/><circle cx="70.6" cy="161.1" r="1.05" fill="none" stroke-width="0.75"/><circle cx="75.2" cy="164.3" r="1.05" fill="none" stroke-width="0.75"/><circle cx="79.8" cy="168.8" r="1.05" fill="none" stroke-width="0.75"/><circle cx="84.4" cy="174.3" r="1.05" fill="none" stroke-width="0.75"/><circle cx="89.0" cy="180.9" r="1.05" fill="none" stroke-width="0.75"/><circle cx="93.6" cy="188.3" r="1.05" fill="none" stroke-width="0.75"/><circle cx="98.2" cy="196.4" r="1.05" fill="none" stroke-width="0.75"/><circle cx="102.7" cy="205.1" r="1.05" fill="none" stroke-width="0.75"/><circle cx="107.3" cy="214.2" r="1.05" fill="none" stroke-width="0.75"/><circle cx="111.9" cy="223.6" r="1.05" fill="none" stroke-width="0.75"/><circle cx="116.5" cy="232.9" r="1.05" fill="none" stroke-width="0.75"/><circle cx="121.1" cy="242.1" r="1.05" fill="none" stroke-width="0.75"/><circle cx="125.7" cy="251.0" r="1.05" fill="none" stroke-width="0.75"/><circle cx="130.3" cy="259.4" r="1.05" fill="none" stroke-width="0.75"/><circle cx="134.9" cy="267.1" r="1.05" fill="none" stroke-width="0.75"/><circle cx="139.5" cy="274.1" r="1.05" fill="none" stroke-width="0.75"/><circle cx="144.1" cy="280.0" r="1.05" fill="none" stroke-width="0.75"/><circle cx="148.7" cy="284.9" r="1.05" fill="none" stroke-width="0.75"/><circle cx="153.3" cy="288.6" r="1.05" fill="none" stroke-width="0.75"/><circle cx="157.9" cy="291.1" r="1.05" fill="none" stroke-width="0.75"/><circle cx="162.5" cy="292.4" r="1.05" fill="none" stroke-width="0.75"/><circle cx="167.1" cy="292.3" r="1.05" fill="none" stroke-width="0.75"/><circle cx="171.7" cy="290.9" r="1.05" fill="none" stroke-width="0.75"/><circle cx="176.3" cy="288.3" r="1.05" fill="none" stroke-width="0.75"/><circle cx="180.8" cy="284.4" r="1.05" fill="none" stroke-width="0.75"/><circle cx="185.4" cy="279.4" r="1.05" fill="none" stroke-width="0.75"/><circle cx="190.0" cy="273.3" r="1.05" fill="none" stroke-width="0.75"/><circle cx="194.6" cy="266.4" r="1.05" fill="none" stroke-width="0.75"/><circle cx="199.2" cy="258.6" r="1.05" fill="none" stroke-width="0.75"/><circle cx="203.8" cy="250.2" r="1.05" fill="none" stroke-width="0.75"/><circle cx="208.4" cy="241.3" r="1.05" fill="none" stroke-width="0.75"/><circle cx="213.0" cy="232.2" r="1.05" fill="none" stroke-width="0.75"/><circle cx="217.6" cy="222.9" r="1.05" fill="none" stroke-width="0.75"/><circle cx="222.2" cy="213.7" r="1.05" fill="none" stroke-width="0.75"/><circle cx="226.8" cy="204.7" r="1.05" fill="none" stroke-width="0.75"/><circle cx="231.4" cy="196.2" r="1.05" fill="none" stroke-width="0.75"/><circle cx="236.0" cy="188.2" r="1.05" fill="none" stroke-width="0.75"/><circle cx="240.6" cy="181.0" r="1.05" fill="none" stroke-width="0.75"/><circle cx="245.2" cy="174.7" r="1.05" fill="none" stroke-width="0.75"/><circle cx="249.8" cy="169.4" r="1.05" fill="none" stroke-width="0.75"/><circle cx="254.4" cy="165.3" r="1.05" fill="none" stroke-width="0.75"/><circle cx="258.9" cy="162.3" r="1.05" fill="none" stroke-width="0.75"/><circle cx="263.5" cy="160.5" r="1.05" fill="none" stroke-width="0.75"/><circle cx="268.1" cy="160.1" r="1.05" fill="none" stroke-width="0.75"/><circle cx="272.7" cy="160.9" r="1.05" fill="none" stroke-width="0.75"/><circle cx="277.3" cy="163.1" r="1.05" fill="none" stroke-width="0.75"/><circle cx="281.9" cy="166.4" r="1.05" fill="none" stroke-width="0.75"/><circle cx="286.5" cy="170.9" r="1.05" fill="none" stroke-width="0.75"/><circle cx="291.1" cy="176.6" r="1.05" fill="none" stroke-width="0.75"/><circle cx="295.7" cy="183.1" r="1.05" fill="none" stroke-width="0.75"/><circle cx="300.3" cy="190.6" r="1.05" fill="none" stroke-width="0.75"/><circle cx="304.9" cy="198.7" r="1.05" fill="none" stroke-width="0.75"/><circle cx="309.5" cy="207.4" r="1.05" fill="none" stroke-width="0.75"/><circle cx="314.1" cy="216.4" r="1.05" fill="none" stroke-width="0.75"/><circle cx="318.7" cy="225.6" r="1.05" fill="none" stroke-width="0.75"/><circle cx="323.3" cy="234.8" r="1.05" fill="none" stroke-width="0.75"/><circle cx="327.9" cy="243.9" r="1.05" fill="none" stroke-width="0.75"/><circle cx="332.5" cy="252.6" r="1.05" fill="none" stroke-width="0.75"/><circle cx="337.0" cy="260.8" r="1.05" fill="none" stroke-width="0.75"/><circle cx="341.6" cy="268.4" r="1.05" fill="none" stroke-width="0.75"/><circle cx="346.2" cy="275.1" r="1.05" fill="none" stroke-width="0.75"/><circle cx="350.8" cy="280.8" r="1.05" fill="none" stroke-width="0.75"/><circle cx="355.4" cy="285.5" r="1.05" fill="none" stroke-width="0.75"/><circle cx="360.0" cy="289.1" r="1.05" fill="none" stroke-width="0.75"/><circle cx="364.6" cy="291.4" r="1.05" fill="none" stroke-width="0.75"/><circle cx="369.2" cy="292.4" r="1.05" fill="none" stroke-width="0.75"/><circle cx="373.8" cy="292.2" r="1.05" fill="none" stroke-width="0.75"/><circle cx="378.4" cy="290.7" r="1.05" fill="none" stroke-width="0.75"/><circle cx="383.0" cy="287.9" r="1.05" fill="none" stroke-width="0.75"/><circle cx="387.6" cy="284.0" r="1.05" fill="none" stroke-width="0.75"/><circle cx="392.2" cy="278.9" r="1.05" fill="none" stroke-width="0.75"/><circle cx="396.8" cy="272.8" r="1.05" fill="none" stroke-width="0.75"/><circle cx="401.4" cy="265.9" r="1.05" fill="none" stroke-width="0.75"/><circle cx="406.0" cy="258.2" r="1.05" fill="none" stroke-width="0.75"/><circle cx="410.6" cy="249.8" r="1.05" fill="none" stroke-width="0.75"/><circle cx="415.1" cy="241.1" r="1.05" fill="none" stroke-width="0.75"/><circle cx="419.7" cy="232.0" r="1.05" fill="none" stroke-width="0.75"/><circle cx="424.3" cy="222.9" r="1.05" fill="none" stroke-width="0.75"/><circle cx="428.9" cy="213.9" r="1.05" fill="none" stroke-width="0.75"/><circle cx="433.5" cy="205.1" r="1.05" fill="none" stroke-width="0.75"/><circle cx="438.1" cy="196.8" r="1.05" fill="none" stroke-width="0.75"/><circle cx="442.7" cy="189.1" r="1.05" fill="none" stroke-width="0.75"/><circle cx="447.3" cy="182.1" r="1.05" fill="none" stroke-width="0.75"/><circle cx="451.9" cy="176.0" r="1.05" fill="none" stroke-width="0.75"/><circle cx="456.5" cy="171.0" r="1.05" fill="none" stroke-width="0.75"/><circle cx="461.1" cy="167.0" r="1.05" fill="none" stroke-width="0.75"/><circle cx="465.7" cy="164.2" r="1.05" fill="none" stroke-width="0.75"/><circle cx="470.3" cy="162.7" r="1.05" fill="none" stroke-width="0.75"/><circle cx="474.5" cy="167.0" r="1.05" fill="none" stroke-width="0.75"/><circle cx="479.5" cy="177.0" r="1.05" fill="none" stroke-width="0.75"/><circle cx="484.0" cy="165.0" r="1.05" fill="none" stroke-width="0.75"/><circle cx="487.5" cy="165.0" r="1.05" fill="none" stroke-width="0.75"/></g>
<path d="M61.4 158.1 L64.7 158.5 L68.0 159.5 L71.2 161.2 L74.5 163.5 L77.8 166.4 L81.1 169.9 L84.4 174.0 L87.7 178.6 L90.9 183.6 L94.2 189.1 L97.5 194.9 L100.8 201.0 L104.1 207.4 L107.3 213.9 L110.6 220.6 L113.9 227.3 L117.2 234.0 L120.5 240.5 L123.7 247.0 L127.0 253.2 L130.3 259.1 L133.6 264.7 L136.9 269.9 L140.2 274.7 L143.4 278.9 L146.7 282.6 L150.0 285.8 L153.3 288.3 L156.6 290.3 L159.8 291.5 L163.1 292.1 L166.4 292.1 L169.7 291.4 L173.0 290.0 L176.3 288.0 L179.5 285.3 L182.8 282.1 L186.1 278.3 L189.4 274.0 L192.7 269.1 L195.9 263.9 L199.2 258.3 L202.5 252.3 L205.8 246.1 L209.1 239.7 L212.3 233.2 L215.6 226.6 L218.9 219.9 L222.2 213.4 L225.5 206.9 L228.8 200.7 L232.0 194.7 L235.3 189.0 L238.6 183.7 L241.9 178.8 L245.2 174.4 L248.4 170.5 L251.7 167.2 L255.0 164.5 L258.3 162.3 L261.6 160.8 L264.9 160.0 L268.1 159.8 L271.4 160.3 L274.7 161.4 L278.0 163.2 L281.3 165.6 L284.5 168.6 L287.8 172.1 L291.1 176.3 L294.4 180.9 L297.7 185.9 L300.9 191.4 L304.2 197.2 L307.5 203.3 L310.8 209.6 L314.1 216.1 L317.4 222.7 L320.6 229.3 L323.9 235.9 L327.2 242.3 L330.5 248.7 L333.8 254.7 L337.0 260.5 L340.3 266.0 L343.6 271.1 L346.9 275.7 L350.2 279.8 L353.5 283.3 L356.7 286.4 L360.0 288.8 L363.3 290.5 L366.6 291.7 L369.9 292.2 L373.1 292.0 L376.4 291.2 L379.7 289.7 L383.0 287.6 L386.3 284.9 L389.5 281.6 L392.8 277.8 L396.1 273.5 L399.4 268.7 L402.7 263.4 L406.0 257.9 L409.2 252.0 L412.5 245.8 L415.8 239.5 L419.1 233.0 L422.4 226.5 L425.6 220.0 L428.9 213.6 L432.2 207.3 L435.5 201.2 L438.8 195.4 L442.1 189.8 L445.3 184.7 L448.6 180.0 L451.9 175.7 L455.2 172.0 L458.5 168.8 L461.7 166.2 L465.0 164.3 L468.3 162.9 L471.6 162.2 L474.9 162.1 L479.0 170.0 L481.3 157.0" fill="none" stroke="#f00" stroke-width="0.7" clip-path="url(#cb)"/>
<g clip-path="url(#cb)" fill="#f00"><path d="M60.30 158.60L62.50 158.60L61.40 156.00z" stroke="none"/><path d="M63.58 158.96L65.78 158.96L64.68 156.36z" stroke="none"/><path d="M66.86 159.98L69.06 159.98L67.96 157.38z" stroke="none"/><path d="M70.14 161.66L72.34 161.66L71.24 159.06z" stroke="none"/><path d="M73.43 163.98L75.63 163.98L74.53 161.38z" stroke="none"/><path d="M76.71 166.91L78.91 166.91L77.81 164.31z" stroke="none"/><path d="M79.99 170.43L82.19 170.43L81.09 167.83z" stroke="none"/><path d="M83.27 174.50L85.47 174.50L84.37 171.90z" stroke="none"/><path d="M86.55 179.09L88.75 179.09L87.65 176.49z" stroke="none"/><path d="M89.83 184.13L92.03 184.13L90.93 181.53z" stroke="none"/><path d="M93.12 189.59L95.31 189.59L94.22 186.99z" stroke="none"/><path d="M96.40 195.41L98.60 195.41L97.50 192.81z" stroke="none"/><path d="M99.68 201.54L101.88 201.54L100.78 198.94z" stroke="none"/><path d="M102.96 207.90L105.16 207.90L104.06 205.30z" stroke="none"/><path d="M106.24 214.44L108.44 214.44L107.34 211.84z" stroke="none"/><path d="M109.52 221.09L111.72 221.09L110.62 218.49z" stroke="none"/><path d="M112.80 227.78L115.00 227.78L113.90 225.18z" stroke="none"/><path d="M116.09 234.46L118.29 234.46L117.19 231.86z" stroke="none"/><path d="M119.37 241.04L121.57 241.04L120.47 238.44z" stroke="none"/><path d="M122.65 247.47L124.85 247.47L123.75 244.87z" stroke="none"/><path d="M125.93 253.69L128.13 253.69L127.03 251.09z" stroke="none"/><path d="M129.21 259.62L131.41 259.62L130.31 257.02z" stroke="none"/><path d="M132.49 265.21L134.69 265.21L133.59 262.61z" stroke="none"/><path d="M135.77 270.41L137.97 270.41L136.87 267.81z" stroke="none"/><path d="M139.06 275.17L141.26 275.17L140.16 272.57z" stroke="none"/><path d="M142.34 279.43L144.54 279.43L143.44 276.83z" stroke="none"/><path d="M145.62 283.15L147.82 283.15L146.72 280.55z" stroke="none"/><path d="M148.90 286.30L151.10 286.30L150.00 283.70z" stroke="none"/><path d="M152.18 288.85L154.38 288.85L153.28 286.25z" stroke="none"/><path d="M155.46 290.76L157.66 290.76L156.56 288.16z" stroke="none"/><path d="M158.75 292.03L160.94 292.03L159.84 289.43z" stroke="none"/><path d="M162.03 292.64L164.23 292.64L163.13 290.04z" stroke="none"/><path d="M165.31 292.59L167.51 292.59L166.41 289.99z" stroke="none"/><path d="M168.59 291.87L170.79 291.87L169.69 289.27z" stroke="none"/><path d="M171.87 290.49L174.07 290.49L172.97 287.89z" stroke="none"/><path d="M175.15 288.47L177.35 288.47L176.25 285.87z" stroke="none"/><path d="M178.43 285.82L180.63 285.82L179.53 283.22z" stroke="none"/><path d="M181.72 282.58L183.92 282.58L182.82 279.98z" stroke="none"/><path d="M185.00 278.78L187.20 278.78L186.10 276.18z" stroke="none"/><path d="M188.28 274.46L190.48 274.46L189.38 271.86z" stroke="none"/><path d="M191.56 269.65L193.76 269.65L192.66 267.05z" stroke="none"/><path d="M194.84 264.41L197.04 264.41L195.94 261.81z" stroke="none"/><path d="M198.12 258.79L200.32 258.79L199.22 256.19z" stroke="none"/><path d="M201.40 252.84L203.60 252.84L202.50 250.24z" stroke="none"/><path d="M204.69 246.64L206.89 246.64L205.79 244.04z" stroke="none"/><path d="M207.97 240.23L210.17 240.23L209.07 237.63z" stroke="none"/><path d="M211.25 233.68L213.45 233.68L212.35 231.08z" stroke="none"/><path d="M214.53 227.07L216.73 227.07L215.63 224.47z" stroke="none"/><path d="M217.81 220.44L220.01 220.44L218.91 217.84z" stroke="none"/><path d="M221.09 213.88L223.29 213.88L222.19 211.28z" stroke="none"/><path d="M224.38 207.45L226.57 207.45L225.47 204.85z" stroke="none"/><path d="M227.66 201.20L229.86 201.20L228.76 198.60z" stroke="none"/><path d="M230.94 195.21L233.14 195.21L232.04 192.61z" stroke="none"/><path d="M234.22 189.54L236.42 189.54L235.32 186.94z" stroke="none"/><path d="M237.50 184.23L239.70 184.23L238.60 181.63z" stroke="none"/><path d="M240.78 179.35L242.98 179.35L241.88 176.75z" stroke="none"/><path d="M244.06 174.94L246.26 174.94L245.16 172.34z" stroke="none"/><path d="M247.35 171.04L249.55 171.04L248.45 168.44z" stroke="none"/><path d="M250.63 167.70L252.83 167.70L251.73 165.10z" stroke="none"/><path d="M253.91 164.95L256.11 164.95L255.01 162.35z" stroke="none"/><path d="M257.19 162.82L259.39 162.82L258.29 160.22z" stroke="none"/><path d="M260.47 161.32L262.67 161.32L261.57 158.72z" stroke="none"/><path d="M263.75 160.47L265.95 160.47L264.85 157.87z" stroke="none"/><path d="M267.03 160.28L269.23 160.28L268.13 157.68z" stroke="none"/><path d="M270.32 160.75L272.52 160.75L271.42 158.15z" stroke="none"/><path d="M273.60 161.88L275.80 161.88L274.70 159.28z" stroke="none"/><path d="M276.88 163.66L279.08 163.66L277.98 161.06z" stroke="none"/><path d="M280.16 166.06L282.36 166.06L281.26 163.46z" stroke="none"/><path d="M283.44 169.07L285.64 169.07L284.54 166.47z" stroke="none"/><path d="M286.72 172.65L288.92 172.65L287.82 170.05z" stroke="none"/><path d="M290.00 176.76L292.21 176.76L291.11 174.16z" stroke="none"/><path d="M293.29 181.38L295.49 181.38L294.39 178.78z" stroke="none"/><path d="M296.57 186.44L298.77 186.44L297.67 183.84z" stroke="none"/><path d="M299.85 191.90L302.05 191.90L300.95 189.30z" stroke="none"/><path d="M303.13 197.70L305.33 197.70L304.23 195.10z" stroke="none"/><path d="M306.41 203.80L308.61 203.80L307.51 201.20z" stroke="none"/><path d="M309.69 210.11L311.89 210.11L310.79 207.51z" stroke="none"/><path d="M312.98 216.59L315.18 216.59L314.08 213.99z" stroke="none"/><path d="M316.26 223.17L318.46 223.17L317.36 220.57z" stroke="none"/><path d="M319.54 229.78L321.74 229.78L320.64 227.18z" stroke="none"/><path d="M322.82 236.36L325.02 236.36L323.92 233.76z" stroke="none"/><path d="M326.10 242.84L328.30 242.84L327.20 240.24z" stroke="none"/><path d="M329.38 249.15L331.58 249.15L330.48 246.55z" stroke="none"/><path d="M332.66 255.24L334.86 255.24L333.76 252.64z" stroke="none"/><path d="M335.95 261.04L338.15 261.04L337.05 258.44z" stroke="none"/><path d="M339.23 266.49L341.43 266.49L340.33 263.89z" stroke="none"/><path d="M342.51 271.55L344.71 271.55L343.61 268.95z" stroke="none"/><path d="M345.79 276.16L347.99 276.16L346.89 273.56z" stroke="none"/><path d="M349.07 280.27L351.27 280.27L350.17 277.67z" stroke="none"/><path d="M352.35 283.85L354.55 283.85L353.45 281.25z" stroke="none"/><path d="M355.63 286.86L357.83 286.86L356.73 284.26z" stroke="none"/><path d="M358.92 289.26L361.12 289.26L360.02 286.66z" stroke="none"/><path d="M362.20 291.05L364.40 291.05L363.30 288.45z" stroke="none"/><path d="M365.48 292.19L367.68 292.19L366.58 289.59z" stroke="none"/><path d="M368.76 292.68L370.96 292.68L369.86 290.08z" stroke="none"/><path d="M372.04 292.51L374.24 292.51L373.14 289.91z" stroke="none"/><path d="M375.32 291.69L377.52 291.69L376.42 289.09z" stroke="none"/><path d="M378.61 290.23L380.81 290.23L379.71 287.63z" stroke="none"/><path d="M381.89 288.14L384.09 288.14L382.99 285.54z" stroke="none"/><path d="M385.17 285.43L387.37 285.43L386.27 282.83z" stroke="none"/><path d="M388.45 282.15L390.65 282.15L389.55 279.55z" stroke="none"/><path d="M391.73 278.31L393.93 278.31L392.83 275.71z" stroke="none"/><path d="M395.01 273.97L397.21 273.97L396.11 271.37z" stroke="none"/><path d="M398.29 269.17L400.49 269.17L399.39 266.57z" stroke="none"/><path d="M401.58 263.94L403.78 263.94L402.68 261.34z" stroke="none"/><path d="M404.86 258.36L407.06 258.36L405.96 255.76z" stroke="none"/><path d="M408.14 252.46L410.34 252.46L409.24 249.86z" stroke="none"/><path d="M411.42 246.32L413.62 246.32L412.52 243.72z" stroke="none"/><path d="M414.70 239.99L416.90 239.99L415.80 237.39z" stroke="none"/><path d="M417.98 233.54L420.18 233.54L419.08 230.94z" stroke="none"/><path d="M421.26 227.03L423.47 227.03L422.37 224.43z" stroke="none"/><path d="M424.55 220.52L426.75 220.52L425.65 217.92z" stroke="none"/><path d="M427.83 214.09L430.03 214.09L428.93 211.49z" stroke="none"/><path d="M431.11 207.80L433.31 207.80L432.21 205.20z" stroke="none"/><path d="M434.39 201.70L436.59 201.70L435.49 199.10z" stroke="none"/><path d="M437.67 195.86L439.87 195.86L438.77 193.26z" stroke="none"/><path d="M440.95 190.35L443.15 190.35L442.05 187.75z" stroke="none"/><path d="M444.24 185.20L446.44 185.20L445.34 182.60z" stroke="none"/><path d="M447.52 180.49L449.72 180.49L448.62 177.89z" stroke="none"/><path d="M450.80 176.24L453.00 176.24L451.90 173.64z" stroke="none"/><path d="M454.08 172.51L456.28 172.51L455.18 169.91z" stroke="none"/><path d="M457.36 169.33L459.56 169.33L458.46 166.73z" stroke="none"/><path d="M460.64 166.74L462.84 166.74L461.74 164.14z" stroke="none"/><path d="M463.92 164.75L466.12 164.75L465.02 162.15z" stroke="none"/><path d="M467.21 163.40L469.41 163.40L468.31 160.80z" stroke="none"/><path d="M470.49 162.68L472.69 162.68L471.59 160.08z" stroke="none"/><path d="M473.77 162.62L475.97 162.62L474.87 160.02z" stroke="none"/><path d="M477.90 170.50L480.10 170.50L479.00 167.90z" stroke="none"/><path d="M480.90 162.50L483.10 162.50L482.00 159.90z" stroke="none"/></g>
<path d="M61.4 157.5 L65.3 158.0 L69.3 159.5 L73.2 161.9 L77.2 165.2 L81.1 169.3 L85.0 174.3 L89.0 180.0 L92.9 186.3 L96.8 193.1 L100.8 200.4 L104.7 208.1 L108.7 216.0 L112.6 224.0 L116.5 232.0 L120.5 239.9 L124.4 247.6 L128.3 255.0 L132.3 261.9 L136.2 268.3 L140.2 274.1 L144.1 279.1 L148.0 283.4 L152.0 286.8 L155.9 289.3 L159.8 290.9 L163.8 291.6 L167.7 291.3 L171.7 290.0 L175.6 287.8 L179.5 284.7 L183.5 280.8 L187.4 276.0 L191.3 270.5 L195.3 264.4 L199.2 257.7 L203.2 250.5 L207.1 243.0 L211.0 235.2 L215.0 227.3 L218.9 219.3 L222.8 211.5 L226.8 203.8 L230.7 196.5 L234.7 189.5 L238.6 183.1 L242.5 177.3 L246.5 172.2 L250.4 167.9 L254.4 164.4 L258.3 161.7 L262.2 160.0 L266.2 159.2 L270.1 159.4 L274.0 160.5 L278.0 162.6 L281.9 165.5 L285.9 169.3 L289.8 174.0 L293.7 179.3 L297.7 185.3 L301.6 191.9 L305.5 199.0 L309.5 206.5 L313.4 214.2 L317.4 222.1 L321.3 230.0 L325.2 237.9 L329.2 245.5 L333.1 252.9 L337.0 259.9 L341.0 266.4 L344.9 272.3 L348.9 277.6 L352.8 282.1 L356.7 285.8 L360.7 288.6 L364.6 290.5 L368.5 291.5 L372.5 291.5 L376.4 290.6 L380.4 288.8 L384.3 286.0 L388.2 282.4 L392.2 278.0 L396.1 272.9 L400.1 267.1 L404.0 260.7 L407.9 253.8 L411.9 246.5 L415.8 238.9 L419.7 231.1 L423.7 223.3 L427.6 215.6 L431.6 207.9 L435.5 200.6 L439.4 193.6 L443.4 187.1 L447.3 181.2 L451.2 176.0 L455.2 171.4 L459.1 167.7 L463.1 164.8 L467.0 162.8 L470.9 161.7 L475.0 162.5 L479.2 163.5 L479.6 150.0 L486.3 150.0 L486.9 168.0" fill="none" stroke="#00f" stroke-width="0.7" clip-path="url(#cb)"/>
<g clip-path="url(#cb)" fill="#00f"><rect x="60.3" y="156.4" width="2.2" height="2.2" stroke="none"/><rect x="64.2" y="156.9" width="2.2" height="2.2" stroke="none"/><rect x="68.2" y="158.4" width="2.2" height="2.2" stroke="none"/><rect x="72.1" y="160.8" width="2.2" height="2.2" stroke="none"/><rect x="76.1" y="164.1" width="2.2" height="2.2" stroke="none"/><rect x="80.0" y="168.2" width="2.2" height="2.2" stroke="none"/><rect x="83.9" y="173.2" width="2.2" height="2.2" stroke="none"/><rect x="87.9" y="178.9" width="2.2" height="2.2" stroke="none"/><rect x="91.8" y="185.2" width="2.2" height="2.2" stroke="none"/><rect x="95.7" y="192.0" width="2.2" height="2.2" stroke="none"/><rect x="99.7" y="199.3" width="2.2" height="2.2" stroke="none"/><rect x="103.6" y="207.0" width="2.2" height="2.2" stroke="none"/><rect x="107.6" y="214.9" width="2.2" height="2.2" stroke="none"/><rect x="111.5" y="222.9" width="2.2" height="2.2" stroke="none"/><rect x="115.4" y="230.9" width="2.2" height="2.2" stroke="none"/><rect x="119.4" y="238.8" width="2.2" height="2.2" stroke="none"/><rect x="123.3" y="246.5" width="2.2" height="2.2" stroke="none"/><rect x="127.2" y="253.9" width="2.2" height="2.2" stroke="none"/><rect x="131.2" y="260.8" width="2.2" height="2.2" stroke="none"/><rect x="135.1" y="267.2" width="2.2" height="2.2" stroke="none"/><rect x="139.1" y="273.0" width="2.2" height="2.2" stroke="none"/><rect x="143.0" y="278.0" width="2.2" height="2.2" stroke="none"/><rect x="146.9" y="282.3" width="2.2" height="2.2" stroke="none"/><rect x="150.9" y="285.7" width="2.2" height="2.2" stroke="none"/><rect x="154.8" y="288.2" width="2.2" height="2.2" stroke="none"/><rect x="158.7" y="289.8" width="2.2" height="2.2" stroke="none"/><rect x="162.7" y="290.5" width="2.2" height="2.2" stroke="none"/><rect x="166.6" y="290.2" width="2.2" height="2.2" stroke="none"/><rect x="170.6" y="288.9" width="2.2" height="2.2" stroke="none"/><rect x="174.5" y="286.7" width="2.2" height="2.2" stroke="none"/><rect x="178.4" y="283.6" width="2.2" height="2.2" stroke="none"/><rect x="182.4" y="279.7" width="2.2" height="2.2" stroke="none"/><rect x="186.3" y="274.9" width="2.2" height="2.2" stroke="none"/><rect x="190.2" y="269.4" width="2.2" height="2.2" stroke="none"/><rect x="194.2" y="263.3" width="2.2" height="2.2" stroke="none"/><rect x="198.1" y="256.6" width="2.2" height="2.2" stroke="none"/><rect x="202.1" y="249.4" width="2.2" height="2.2" stroke="none"/><rect x="206.0" y="241.9" width="2.2" height="2.2" stroke="none"/><rect x="209.9" y="234.1" width="2.2" height="2.2" stroke="none"/><rect x="213.9" y="226.2" width="2.2" height="2.2" stroke="none"/><rect x="217.8" y="218.2" width="2.2" height="2.2" stroke="none"/><rect x="221.7" y="210.4" width="2.2" height="2.2" stroke="none"/><rect x="225.7" y="202.7" width="2.2" height="2.2" stroke="none"/><rect x="229.6" y="195.4" width="2.2" height="2.2" stroke="none"/><rect x="233.6" y="188.4" width="2.2" height="2.2" stroke="none"/><rect x="237.5" y="182.0" width="2.2" height="2.2" stroke="none"/><rect x="241.4" y="176.2" width="2.2" height="2.2" stroke="none"/><rect x="245.4" y="171.1" width="2.2" height="2.2" stroke="none"/><rect x="249.3" y="166.8" width="2.2" height="2.2" stroke="none"/><rect x="253.3" y="163.3" width="2.2" height="2.2" stroke="none"/><rect x="257.2" y="160.6" width="2.2" height="2.2" stroke="none"/><rect x="261.1" y="158.9" width="2.2" height="2.2" stroke="none"/><rect x="265.1" y="158.1" width="2.2" height="2.2" stroke="none"/><rect x="269.0" y="158.3" width="2.2" height="2.2" stroke="none"/><rect x="272.9" y="159.4" width="2.2" height="2.2" stroke="none"/><rect x="276.9" y="161.5" width="2.2" height="2.2" stroke="none"/><rect x="280.8" y="164.4" width="2.2" height="2.2" stroke="none"/><rect x="284.8" y="168.2" width="2.2" height="2.2" stroke="none"/><rect x="288.7" y="172.9" width="2.2" height="2.2" stroke="none"/><rect x="292.6" y="178.2" width="2.2" height="2.2" stroke="none"/><rect x="296.6" y="184.2" width="2.2" height="2.2" stroke="none"/><rect x="300.5" y="190.8" width="2.2" height="2.2" stroke="none"/><rect x="304.4" y="197.9" width="2.2" height="2.2" stroke="none"/><rect x="308.4" y="205.4" width="2.2" height="2.2" stroke="none"/><rect x="312.3" y="213.1" width="2.2" height="2.2" stroke="none"/><rect x="316.3" y="221.0" width="2.2" height="2.2" stroke="none"/><rect x="320.2" y="228.9" width="2.2" height="2.2" stroke="none"/><rect x="324.1" y="236.8" width="2.2" height="2.2" stroke="none"/><rect x="328.1" y="244.4" width="2.2" height="2.2" stroke="none"/><rect x="332.0" y="251.8" width="2.2" height="2.2" stroke="none"/><rect x="335.9" y="258.8" width="2.2" height="2.2" stroke="none"/><rect x="339.9" y="265.3" width="2.2" height="2.2" stroke="none"/><rect x="343.8" y="271.2" width="2.2" height="2.2" stroke="none"/><rect x="347.8" y="276.5" width="2.2" height="2.2" stroke="none"/><rect x="351.7" y="281.0" width="2.2" height="2.2" stroke="none"/><rect x="355.6" y="284.7" width="2.2" height="2.2" stroke="none"/><rect x="359.6" y="287.5" width="2.2" height="2.2" stroke="none"/><rect x="363.5" y="289.4" width="2.2" height="2.2" stroke="none"/><rect x="367.4" y="290.4" width="2.2" height="2.2" stroke="none"/><rect x="371.4" y="290.4" width="2.2" height="2.2" stroke="none"/><rect x="375.3" y="289.5" width="2.2" height="2.2" stroke="none"/><rect x="379.3" y="287.7" width="2.2" height="2.2" stroke="none"/><rect x="383.2" y="284.9" width="2.2" height="2.2" stroke="none"/><rect x="387.1" y="281.3" width="2.2" height="2.2" stroke="none"/><rect x="391.1" y="276.9" width="2.2" height="2.2" stroke="none"/><rect x="395.0" y="271.8" width="2.2" height="2.2" stroke="none"/><rect x="399.0" y="266.0" width="2.2" height="2.2" stroke="none"/><rect x="402.9" y="259.6" width="2.2" height="2.2" stroke="none"/><rect x="406.8" y="252.7" width="2.2" height="2.2" stroke="none"/><rect x="410.8" y="245.4" width="2.2" height="2.2" stroke="none"/><rect x="414.7" y="237.8" width="2.2" height="2.2" stroke="none"/><rect x="418.6" y="230.0" width="2.2" height="2.2" stroke="none"/><rect x="422.6" y="222.2" width="2.2" height="2.2" stroke="none"/><rect x="426.5" y="214.5" width="2.2" height="2.2" stroke="none"/><rect x="430.5" y="206.8" width="2.2" height="2.2" stroke="none"/><rect x="434.4" y="199.5" width="2.2" height="2.2" stroke="none"/><rect x="438.3" y="192.5" width="2.2" height="2.2" stroke="none"/><rect x="442.3" y="186.0" width="2.2" height="2.2" stroke="none"/><rect x="446.2" y="180.1" width="2.2" height="2.2" stroke="none"/><rect x="450.1" y="174.9" width="2.2" height="2.2" stroke="none"/><rect x="454.1" y="170.3" width="2.2" height="2.2" stroke="none"/><rect x="458.0" y="166.6" width="2.2" height="2.2" stroke="none"/><rect x="462.0" y="163.7" width="2.2" height="2.2" stroke="none"/><rect x="465.9" y="161.7" width="2.2" height="2.2" stroke="none"/><rect x="469.8" y="160.6" width="2.2" height="2.2" stroke="none"/><rect x="473.9" y="161.4" width="2.2" height="2.2" stroke="none"/><rect x="478.1" y="162.4" width="2.2" height="2.2" stroke="none"/><rect x="485.8" y="166.9" width="2.2" height="2.2" stroke="none"/></g>
<path d="M61.4 157.5 L62.5 157.5 L63.5 157.7 L64.6 157.8 L65.7 158.1 L66.8 158.4 L67.8 158.8 L68.9 159.3 L70.0 159.8 L71.0 160.4 L72.1 161.1 L73.2 161.8 L74.2 162.7 L75.3 163.5 L76.4 164.5 L77.5 165.5 L78.5 166.5 L79.6 167.7 L80.7 168.9 L81.7 170.1 L82.8 171.4 L83.9 172.8 L85.0 174.2 L86.0 175.7 L87.1 177.2 L88.2 178.8 L89.2 180.4 L90.3 182.0 L91.4 183.8 L92.5 185.5 L93.5 187.3 L94.6 189.2 L95.7 191.0 L96.7 192.9 L97.8 194.9 L98.9 196.9 L99.9 198.9 L101.0 200.9 L102.1 203.0 L103.2 205.0 L104.2 207.1 L105.3 209.3 L106.4 211.4 L107.4 213.5 L108.5 215.7 L109.6 217.9 L110.7 220.1 L111.7 222.2 L112.8 224.4 L113.9 226.6 L114.9 228.8 L116.0 231.0 L117.1 233.1 L118.2 235.3 L119.2 237.5 L120.3 239.6 L121.4 241.7 L122.4 243.8 L123.5 245.9 L124.6 248.0 L125.6 250.0 L126.7 252.0 L127.8 254.0 L128.9 255.9 L129.9 257.8 L131.0 259.7 L132.1 261.6 L133.1 263.4 L134.2 265.1 L135.3 266.8 L136.4 268.5 L137.4 270.1 L138.5 271.7 L139.6 273.3 L140.6 274.7 L141.7 276.1 L142.8 277.5 L143.9 278.8 L144.9 280.1 L146.0 281.3 L147.1 282.4 L148.1 283.5 L149.2 284.5 L150.3 285.4 L151.3 286.3 L152.4 287.1 L153.5 287.9 L154.6 288.6 L155.6 289.2 L156.7 289.7 L157.8 290.2 L158.8 290.6 L159.9 291.0 L161.0 291.2 L162.1 291.4 L163.1 291.5 L164.2 291.6 L165.3 291.6 L166.3 291.5 L167.4 291.3 L168.5 291.1 L169.6 290.8 L170.6 290.4 L171.7 290.0 L172.8 289.5 L173.8 288.9 L174.9 288.3 L176.0 287.6 L177.0 286.8 L178.1 285.9 L179.2 285.0 L180.3 284.1 L181.3 283.0 L182.4 281.9 L183.5 280.8 L184.5 279.6 L185.6 278.3 L186.7 276.9 L187.8 275.6 L188.8 274.1 L189.9 272.6 L191.0 271.1 L192.0 269.5 L193.1 267.9 L194.2 266.2 L195.3 264.4 L196.3 262.7 L197.4 260.9 L198.5 259.0 L199.5 257.1 L200.6 255.2 L201.7 253.3 L202.7 251.3 L203.8 249.3 L204.9 247.3 L206.0 245.2 L207.0 243.1 L208.1 241.0 L209.2 238.9 L210.2 236.8 L211.3 234.7 L212.4 232.5 L213.5 230.4 L214.5 228.2 L215.6 226.0 L216.7 223.9 L217.7 221.7 L218.8 219.6 L219.9 217.4 L220.9 215.3 L222.0 213.1 L223.1 211.0 L224.2 208.9 L225.2 206.8 L226.3 204.8 L227.4 202.7 L228.4 200.7 L229.5 198.7 L230.6 196.7 L231.7 194.8 L232.7 192.9 L233.8 191.0 L234.9 189.2 L235.9 187.4 L237.0 185.7 L238.1 183.9 L239.2 182.3 L240.2 180.7 L241.3 179.1 L242.4 177.6 L243.4 176.1 L244.5 174.7 L245.6 173.3 L246.6 172.0 L247.7 170.8 L248.8 169.6 L249.9 168.4 L250.9 167.4 L252.0 166.3 L253.1 165.4 L254.1 164.5 L255.2 163.7 L256.3 162.9 L257.4 162.3 L258.4 161.6 L259.5 161.1 L260.6 160.6 L261.6 160.2 L262.7 159.8 L263.8 159.6 L264.9 159.4 L265.9 159.2 L267.0 159.2 L268.1 159.2 L269.1 159.3 L270.2 159.4 L271.3 159.6 L272.3 159.9 L273.4 160.3 L274.5 160.7 L275.6 161.2 L276.6 161.8 L277.7 162.4 L278.8 163.1 L279.8 163.8 L280.9 164.7 L282.0 165.6 L283.1 166.5 L284.1 167.6 L285.2 168.6 L286.3 169.8 L287.3 171.0 L288.4 172.2 L289.5 173.6 L290.6 174.9 L291.6 176.4 L292.7 177.8 L293.8 179.4 L294.8 180.9 L295.9 182.6 L297.0 184.2 L298.0 186.0 L299.1 187.7 L300.2 189.5 L301.3 191.3 L302.3 193.2 L303.4 195.1 L304.5 197.0 L305.5 199.0 L306.6 201.0 L307.7 203.0 L308.8 205.1 L309.8 207.1 L310.9 209.2 L312.0 211.3 L313.0 213.4 L314.1 215.6 L315.2 217.7 L316.3 219.8 L317.3 222.0 L318.4 224.2 L319.5 226.3 L320.5 228.5 L321.6 230.6 L322.7 232.8 L323.7 234.9 L324.8 237.0 L325.9 239.2 L327.0 241.3 L328.0 243.3 L329.1 245.4 L330.2 247.5 L331.2 249.5 L332.3 251.5 L333.4 253.4 L334.5 255.4 L335.5 257.3 L336.6 259.2 L337.7 261.0 L338.7 262.8 L339.8 264.6 L340.9 266.3 L342.0 267.9 L343.0 269.6 L344.1 271.2 L345.2 272.7 L346.2 274.2 L347.3 275.6 L348.4 277.0 L349.4 278.3 L350.5 279.6 L351.6 280.8 L352.7 281.9 L353.7 283.0 L354.8 284.1 L355.9 285.0 L356.9 285.9 L358.0 286.8 L359.1 287.5 L360.2 288.3 L361.2 288.9 L362.3 289.5 L363.4 290.0 L364.4 290.4 L365.5 290.8 L366.6 291.1 L367.7 291.3 L368.7 291.5 L369.8 291.6 L370.9 291.6 L371.9 291.6 L373.0 291.4 L374.1 291.2 L375.1 291.0 L376.2 290.7 L377.3 290.3 L378.4 289.8 L379.4 289.3 L380.5 288.7 L381.6 288.0 L382.6 287.3 L383.7 286.5 L384.8 285.6 L385.9 284.7 L386.9 283.7 L388.0 282.7 L389.1 281.6 L390.1 280.4 L391.2 279.2 L392.3 277.9 L393.3 276.6 L394.4 275.2 L395.5 273.7 L396.6 272.2 L397.6 270.7 L398.7 269.1 L399.8 267.5 L400.8 265.8 L401.9 264.1 L403.0 262.3 L404.1 260.5 L405.1 258.7 L406.2 256.8 L407.3 254.9 L408.3 253.0 L409.4 251.0 L410.5 249.1 L411.6 247.1 L412.6 245.0 L413.7 243.0 L414.8 240.9 L415.8 238.8 L416.9 236.7 L418.0 234.6 L419.0 232.5 L420.1 230.4 L421.2 228.3 L422.3 226.1 L423.3 224.0 L424.4 221.9 L425.5 219.8 L426.5 217.7 L427.6 215.6 L428.7 213.5 L429.8 211.4 L430.8 209.3 L431.9 207.3 L433.0 205.3 L434.0 203.3 L435.1 201.3 L436.2 199.3 L437.3 197.4 L438.3 195.5 L439.4 193.7 L440.5 191.9 L441.5 190.1 L442.6 188.4 L443.7 186.7 L444.7 185.0 L445.8 183.4 L446.9 181.8 L448.0 180.3 L449.0 178.8 L450.1 177.4 L451.2 176.0 L452.2 174.7 L453.3 173.5 L454.4 172.3 L455.5 171.1 L456.5 170.0 L457.6 169.0 L458.7 168.1 L459.7 167.2 L460.8 166.3 L461.9 165.5 L463.0 164.8 L464.0 164.2 L465.1 163.6 L466.2 163.1 L467.2 162.7 L468.3 162.3 L469.4 162.0 L470.4 161.8 L471.5 161.6 L472.6 161.5 L473.7 161.5 L474.7 161.5 L475.8 161.6 L476.9 161.8 L477.9 162.0 L479.0 162.4 L480.1 162.7 L481.2 163.2 L482.2 163.7 L483.3 164.3 L484.4 165.0 L485.4 165.7 L486.5 166.5 L487.6 167.3 L488.7 168.2" fill="none" stroke="#000" stroke-width="1.6" stroke-dasharray="4.7 1.1 0.7 1.1" clip-path="url(#cb)"/>
<g fill="none" stroke="#000" stroke-width="1"><rect x="61.4" y="9.0" width="427.1" height="148.5"/><rect x="61.4" y="157.5" width="427.1" height="134.10000000000002"/><path d="M94.2 9.0v2.2 M94.2 157.5v-2.2 M94.2 157.5v2.2 M94.2 291.6v-2.2 M127.0 9.0v4.4 M127.0 157.5v-4.4 M127.0 157.5v4.4 M127.0 291.6v-4.4 M159.8 9.0v2.2 M159.8 157.5v-2.2 M159.8 157.5v2.2 M159.8 291.6v-2.2 M192.7 9.0v4.4 M192.7 157.5v-4.4 M192.7 157.5v4.4 M192.7 291.6v-4.4 M225.5 9.0v2.2 M225.5 157.5v-2.2 M225.5 157.5v2.2 M225.5 291.6v-2.2 M258.3 9.0v4.4 M258.3 157.5v-4.4 M258.3 157.5v4.4 M258.3 291.6v-4.4 M291.1 9.0v2.2 M291.1 157.5v-2.2 M291.1 157.5v2.2 M291.1 291.6v-2.2 M323.9 9.0v4.4 M323.9 157.5v-4.4 M323.9 157.5v4.4 M323.9 291.6v-4.4 M356.7 9.0v2.2 M356.7 157.5v-2.2 M356.7 157.5v2.2 M356.7 291.6v-2.2 M389.5 9.0v4.4 M389.5 157.5v-4.4 M389.5 157.5v4.4 M389.5 291.6v-4.4 M422.4 9.0v2.2 M422.4 157.5v-2.2 M422.4 157.5v2.2 M422.4 291.6v-2.2 M455.2 9.0v4.4 M455.2 157.5v-4.4 M455.2 157.5v4.4 M455.2 291.6v-4.4 M61.4 15.5h4.4 M488.5 15.5h-4.4 M61.4 47.7h4.4 M488.5 47.7h-4.4 M61.4 80.0h4.4 M488.5 80.0h-4.4 M61.4 112.3h4.4 M488.5 112.3h-4.4 M61.4 144.6h4.4 M488.5 144.6h-4.4 M61.4 184.3h4.4 M488.5 184.3h-4.4 M61.4 211.1h4.4 M488.5 211.1h-4.4 M61.4 238.0h4.4 M488.5 238.0h-4.4 M61.4 264.8h4.4 M488.5 264.8h-4.4 "/></g>
<g font-family="Liberation Sans, sans-serif" font-size="10.2" fill="#000" stroke="#000" stroke-width="0.12" text-rendering="geometricPrecision"><text transform="translate(55.3 19.1) scale(0.95 1)" text-anchor="end">0.25</text><text transform="translate(55.3 51.4) scale(0.95 1)" text-anchor="end">0.245</text><text transform="translate(55.3 83.7) scale(0.95 1)" text-anchor="end">0.24</text><text transform="translate(55.3 116.0) scale(0.95 1)" text-anchor="end">0.235</text><text transform="translate(55.3 148.2) scale(0.95 1)" text-anchor="end">0.23</text><text transform="translate(55.3 161.2) scale(0.95 1)" text-anchor="end">0.25</text><text transform="translate(55.3 188.0) scale(0.95 1)" text-anchor="end">0.2</text><text transform="translate(55.3 214.8) scale(0.95 1)" text-anchor="end">0.15</text><text transform="translate(55.3 241.6) scale(0.95 1)" text-anchor="end">0.1</text><text transform="translate(55.3 268.4) scale(0.95 1)" text-anchor="end">0.05</text><text transform="translate(55.3 295.2) scale(0.95 1)" text-anchor="end">0</text><text transform="translate(62.5 304.6) scale(0.95 1)" text-anchor="middle">0</text><text transform="translate(128.1 304.6) scale(0.95 1)" text-anchor="middle">0.1</text><text transform="translate(193.8 304.6) scale(0.95 1)" text-anchor="middle">0.2</text><text transform="translate(259.4 304.6) scale(0.95 1)" text-anchor="middle">0.3</text><text transform="translate(325.0 304.6) scale(0.95 1)" text-anchor="middle">0.4</text><text transform="translate(390.6 304.6) scale(0.95 1)" text-anchor="middle">0.5</text><text transform="translate(456.3 304.6) scale(0.95 1)" text-anchor="middle">0.6</text><text transform="translate(274.7 320.2) scale(0.95 1)" text-anchor="middle">tJ/ħ</text><text transform="translate(24.5 83.3) rotate(-90) scale(0.95 1)" text-anchor="middle">[S<tspan font-size="8.16" dy="-5">z</tspan><tspan font-size="8.16" dy="8">i</tspan><tspan dy="-3">,S</tspan><tspan font-size="8.16" dy="-5">z</tspan><tspan font-size="8.16" dy="8">i+1</tspan><tspan dy="-3">]</tspan></text><text transform="translate(30.3 224.3) rotate(-90) scale(0.95 1)" text-anchor="middle">[S<tspan font-size="8.16" dy="-5">z</tspan><tspan font-size="8.16" dy="8">i</tspan><tspan dy="-3">,S</tspan><tspan font-size="8.16" dy="-5">z</tspan><tspan font-size="8.16" dy="8">i+1</tspan><tspan dy="-3">]</tspan></text></g>

</svg>
</body></html>
